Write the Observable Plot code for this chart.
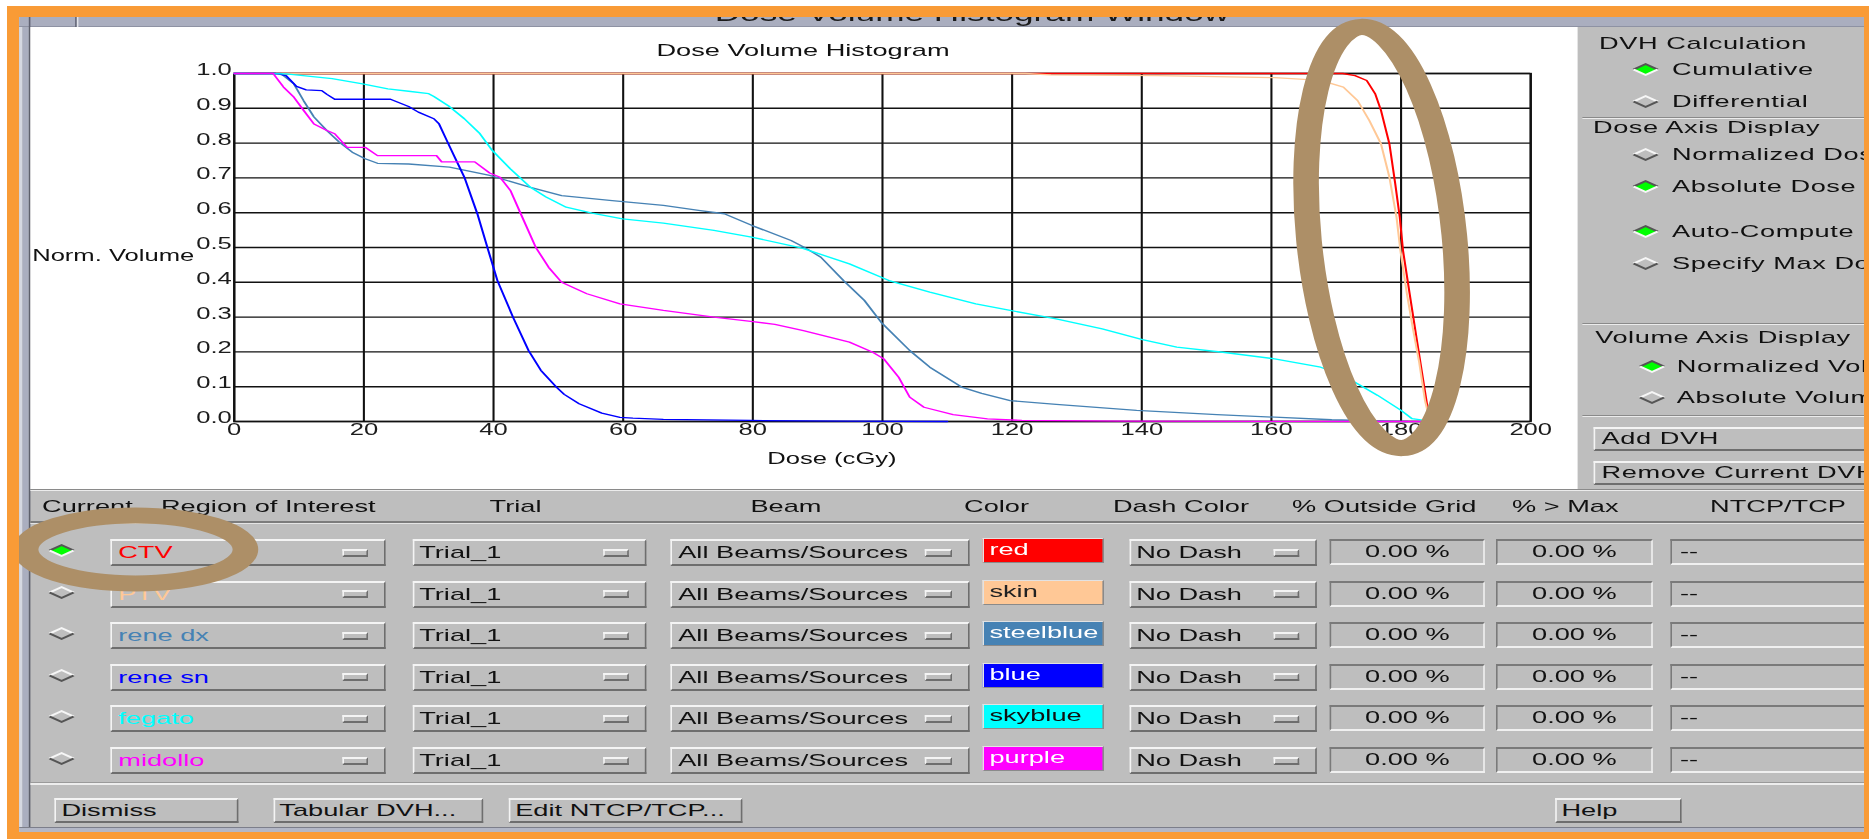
<!DOCTYPE html>
<html>
<head>
<meta charset="utf-8">
<title>Dose Volume Histogram Window</title>
<script src="https://cdn.jsdelivr.net/npm/d3@7"></script>
<script src="https://cdn.jsdelivr.net/npm/@observablehq/plot@0.6"></script>
<style>
html, body { margin:0; padding:0; background:#fff; width:1869px; height:839px; overflow:hidden; }
#app { position:absolute; left:0; top:0; width:1168.125px; height:839px; transform:scale(1.6,1); transform-origin:0 0;
  font-family:"Liberation Sans", Arial, Helvetica, sans-serif; font-size:17px; color:#111; }
#app div { position:absolute; box-sizing:border-box; white-space:nowrap; }
.orange { position:absolute; background:#f99b36; z-index:10; }
.t { height:20px; line-height:20px; }
.raised { background:#bebebe; border-style:solid; border-width:2px 1.5px; border-color:#f4f4f4 #6e6e6e #6e6e6e #f4f4f4; }
.sunken { background:#bebebe; border-style:solid; border-width:2px 1.5px; border-color:#7a7a7a #f0f0f0 #f0f0f0 #7a7a7a; }
.rp { letter-spacing:0.35px; }
</style>
</head>
<body>
<div id="app"></div>
<div class="orange" style="left:7px;top:6px;width:1862px;height:11px"></div>
<div class="orange" style="left:7px;top:6px;width:12px;height:833px"></div>
<div class="orange" style="left:1864px;top:6px;width:5px;height:833px"></div>
<div class="orange" style="left:7px;top:832px;width:1862px;height:7px"></div>
<script>
// ---------------- DATA ----------------
const windowTitle = "Dose Volume Histogram Window";
const chartTitle = "Dose Volume Histogram";
const xLabel = "Dose (cGy)";
const yLabel = "Norm. Volume";
const xTicks = [0, 20, 40, 60, 80, 100, 120, 140, 160, 180, 200];
const yTicks = [0, 0.1, 0.2, 0.3, 0.4, 0.5, 0.6, 0.7, 0.8, 0.9, 1.0];

const roiNames  = ["CTV", "PTV", "rene dx", "rene sn", "fegato", "midollo"];
const roiColors = ["#ff0000", "#ffc896", "#4682b4", "#0000ff", "#00ffff", "#ff00ff"];
const colorNames = ["red", "skin", "steelblue", "blue", "skyblue", "purple"];
const swatchTextColors = ["#ffffff", "#222222", "#ffffff", "#ffffff", "#111111", "#ffffff"];
const trialNames = ["Trial_1", "Trial_1", "Trial_1", "Trial_1", "Trial_1", "Trial_1"];
const beamNames = ["All Beams/Sources", "All Beams/Sources", "All Beams/Sources", "All Beams/Sources", "All Beams/Sources", "All Beams/Sources"];
const dashNames = ["No Dash", "No Dash", "No Dash", "No Dash", "No Dash", "No Dash"];
const outsideGrid = ["0.00 %", "0.00 %", "0.00 %", "0.00 %", "0.00 %", "0.00 %"];
const overMax = ["0.00 %", "0.00 %", "0.00 %", "0.00 %", "0.00 %", "0.00 %"];
const ntcpTcp = ["--", "--", "--", "--", "--", "--"];
const currentRoi = 0;
const tableHeaders = ["Current", "Region of Interest", "Trial", "Beam", "Color", "Dash Color", "% Outside Grid", "% > Max", "NTCP/TCP"];
const bottomButtons = ["Dismiss", "Tabular DVH...", "Edit NTCP/TCP...", "Help"];

const dvhCalcTitle = "DVH Calculation";
const dvhCalcOptions = ["Cumulative", "Differential"];
const doseAxisTitle = "Dose Axis Display";
const doseAxisOptions = ["Normalized Dose", "Absolute Dose"];
const maxDoseOptions = ["Auto-Compute", "Specify Max Dose"];
const volAxisTitle = "Volume Axis Display";
const volAxisOptions = ["Normalized Volume", "Absolute Volume"];
const sideButtons = ["Add DVH", "Remove Current DVH"];

// DVH curves (dose cGy, normalized volume)
const ctvDose = [0, 171, 172.9, 174.7, 176, 176.9, 178.2, 179.1, 179.8, 180.3, 181.3, 182.3, 183.4, 184.3, 185];
const ctvVol  = [1, 1, 0.994, 0.98, 0.942, 0.894, 0.798, 0.683, 0.587, 0.491, 0.37, 0.25, 0.12, 0.015, 0];

const ptvDose = [0, 122, 126, 142.6, 160.5, 167.6, 171.1, 173.3, 175.1, 176.9, 178.2, 179.3, 179.9, 180.9, 181.8, 182.8, 183.7, 184.4, 185];
const ptvVol  = [1, 1, 0.996, 0.994, 0.988, 0.98, 0.961, 0.922, 0.865, 0.798, 0.702, 0.587, 0.491, 0.367, 0.27, 0.17, 0.06, 0.005, 0];

const reneDxDose = [0, 7.2, 9.2, 10.7, 12.3, 14.3, 16.2, 18.2, 20.2, 22.1, 26.9, 33.2, 39.4, 45.7, 50.5, 58.3, 66.2, 71.9, 75.6, 79.9, 85.9, 87.9, 90.5, 94, 97.2, 99.8, 104.2, 107.3, 112.2, 115.3, 119.7, 126.8, 139.2, 151.6, 160.5, 169.3, 178.2, 181];
const reneDxVol  = [1, 1, 0.97, 0.922, 0.875, 0.836, 0.803, 0.774, 0.755, 0.742, 0.74, 0.731, 0.707, 0.673, 0.649, 0.635, 0.621, 0.606, 0.597, 0.563, 0.52, 0.501, 0.472, 0.405, 0.348, 0.285, 0.204, 0.156, 0.099, 0.081, 0.06, 0.049, 0.032, 0.02, 0.0125, 0.005, 0.001, 0];

const reneSnDose = [0, 6.4, 8, 9.6, 11.1, 13.5, 14.3, 15.5, 24.1, 26.9, 28.4, 30.8, 31.6, 32.8, 34, 35.5, 37.5, 39.2, 40.6, 43, 45.4, 47.3, 49.7, 50.9, 53.2, 56.7, 59.5, 61.5, 66.2, 79.6, 95, 110];
const reneSnVol  = [1, 1, 0.994, 0.963, 0.953, 0.951, 0.94, 0.926, 0.926, 0.905, 0.889, 0.87, 0.855, 0.807, 0.76, 0.702, 0.597, 0.491, 0.405, 0.3, 0.204, 0.147, 0.099, 0.078, 0.051, 0.024, 0.012, 0.0096, 0.006, 0.003, 0.001, 0];

const fegatoDose = [0, 8, 15.1, 19.8, 23.7, 26.9, 30, 30.8, 33.2, 35.5, 37.9, 39.8, 42.6, 45.7, 48.1, 51.2, 55.2, 59.9, 66.2, 74, 79.8, 87.6, 94.9, 101, 107.3, 114.4, 119.7, 126.8, 133.9, 140.1, 145.4, 152.5, 160.5, 167.6, 171.1, 176.4, 180, 181.7, 184.4];
const fegatoVol  = [1, 0.999, 0.985, 0.97, 0.956, 0.949, 0.942, 0.934, 0.905, 0.87, 0.827, 0.779, 0.726, 0.673, 0.645, 0.616, 0.599, 0.582, 0.57, 0.549, 0.53, 0.498, 0.453, 0.405, 0.372, 0.338, 0.319, 0.295, 0.266, 0.235, 0.214, 0.199, 0.18, 0.156, 0.132, 0.075, 0.032, 0.008, 0.001];

const midolloDose = [0, 6, 7.6, 9.2, 10.7, 12.3, 14.3, 15.5, 17.4, 20.2, 22.1, 31.2, 32, 37.1, 39.4, 41, 42.6, 44.2, 46.5, 48.5, 50.5, 54.4, 59.5, 66.2, 74, 80, 83.4, 87.8, 94.9, 98.5, 100.2, 102.5, 104.2, 106.4, 110.9, 116.2, 121.5, 137.5, 184];
const midolloVol  = [1, 1, 0.961, 0.932, 0.894, 0.855, 0.836, 0.827, 0.788, 0.788, 0.764, 0.764, 0.746, 0.746, 0.714, 0.702, 0.664, 0.597, 0.501, 0.443, 0.4, 0.367, 0.338, 0.319, 0.3, 0.287, 0.279, 0.261, 0.228, 0.199, 0.18, 0.127, 0.07, 0.041, 0.02, 0.0077, 0.003, 0.001, 0];

const seriesDose = [ctvDose, ptvDose, reneDxDose, reneSnDose, fegatoDose, midolloDose];
const seriesVol  = [ctvVol, ptvVol, reneDxVol, reneSnVol, fegatoVol, midolloVol];

// ---------------- LAYOUT (unscaled units; page is stretched 1.6x horizontally) ----------------
const app = document.getElementById("app");
function add(st, cls, text, parent) {
  const d = document.createElement("div");
  if (cls) d.className = cls;
  for (const k in st) d.style[k] = (typeof st[k] === "number" && k !== "zIndex") ? st[k] + "px" : st[k];
  if (text != null) d.textContent = text;
  (parent || app).appendChild(d);
  return d;
}
function label(x, cy, text, extra, cls) {
  return add(Object.assign({left: x, top: cy - 10}, extra || {}), "t" + (cls ? " " + cls : ""), text);
}
function diamond(cx, cy, selected) {
  const w = 17, h = 13;
  const s = document.createElementNS("http://www.w3.org/2000/svg", "svg");
  s.setAttribute("width", w); s.setAttribute("height", h);
  s.style.position = "absolute"; s.style.left = (cx - w / 2) + "px"; s.style.top = (cy - h / 2) + "px"; s.style.overflow = "visible";
  const top = selected ? "#555" : "#f6f6f6", bot = selected ? "#f6f6f6" : "#555";
  s.innerHTML =
    `<polygon points="${w/2},1 ${w-1},${h/2} ${w/2},${h-1} 1,${h/2}" fill="${selected ? '#00ff00' : '#bebebe'}"/>` +
    `<polyline points="1,${h/2} ${w/2},1 ${w-1},${h/2}" fill="none" stroke="${top}" stroke-width="1.8"/>` +
    `<polyline points="1,${h/2} ${w/2},${h-1} ${w-1},${h/2}" fill="none" stroke="${bot}" stroke-width="1.8"/>`;
  app.appendChild(s);
}
function etch(x, y, w) {
  add({left: x, top: y, width: w, height: 1, background: "#8a8a8a"});
  add({left: x, top: y + 1, width: w, height: 1.2, background: "#ececec"});
}

// window background
add({left: 11.875, top: 17, width: 1153.125, height: 815, background: "#bebebe"});
// title bar
add({left: 11.875, top: 17, width: 1153.125, height: 10, background: "#aaaebf", borderBottom: "1px solid #8e92a3"});
add({left: 18.1, top: 17, width: 1.1, height: 10, background: "#5e6070"});
add({left: 47.2, top: 17, width: 1.1, height: 10, background: "#5e6070"});
add({left: 48.3, top: 17, width: 0.8, height: 10, background: "#e2e4ea"});
const titleClip = add({left: 11.875, top: 6, width: 1153, height: 21, overflow: "hidden"});
add({left: 295.6, top: -3.1, width: 600, height: 22, lineHeight: "22px", fontSize: "22px", textAlign: "center", color: "#1a1a1a"}, null, windowTitle, titleClip);
// left frame strip
add({left: 11.875, top: 27, width: 1.9, height: 801, background: "#d5d8e1"});
add({left: 13.75, top: 27, width: 4.4, height: 801, background: "#aaaebf"});
add({left: 18.1, top: 27, width: 1.3, height: 801, background: "#5d5f6b"});
// bottom band
add({left: 11.875, top: 827, width: 1153.125, height: 1, background: "#7c7e8a"});
add({left: 11.875, top: 828, width: 1153.125, height: 4, background: "#b3b7c6"});
// chart white area
const chartHost = add({left: 19.375, top: 27, width: 966.25, height: 462, background: "#ffffff"});

// ---------------- CHART ----------------
const rows = [];
roiNames.forEach((name, i) => seriesDose[i].forEach((d, j) => rows.push({roi: name, dose: d, vol: seriesVol[i][j]})));

const chart = Plot.plot({
  width: 966, height: 462,
  marginLeft: 126.9, marginRight: 28.8, marginTop: 46, marginBottom: 68,
  style: {fontFamily: "'Liberation Sans', Arial, sans-serif", fontSize: "16px", color: "#1c1c1c", background: "transparent", overflow: "visible"},
  x: {domain: [0, 200], label: null},
  y: {domain: [0, 1], label: null},
  color: {domain: roiNames, range: roiColors},
  marks: [
    Plot.gridX(xTicks, {stroke: "#111", strokeOpacity: 1, strokeWidth: 1.3}),
    Plot.gridY(yTicks, {stroke: "#111", strokeOpacity: 1, strokeWidth: 1.4}),
    Plot.frame({stroke: "#111", strokeWidth: 1.4}),
    Plot.axisX(xTicks, {tickSize: 0, tickPadding: 2.5, tickFormat: d => String(d)}),
    Plot.axisY(yTicks, {tickSize: 0, tickPadding: 1.5, tickFormat: d3.format(".1f"), dy: -3.6}),
    Plot.line(rows, {x: "dose", y: "vol", z: "roi", stroke: "roi", strokeWidth: 1.3}),
    Plot.text([chartTitle], {text: d => d, frameAnchor: "top", lineAnchor: "middle", dy: -22.5, dx: -49.7, fontSize: 17, fill: "#111"}),
    Plot.text([xLabel], {text: d => d, frameAnchor: "bottom", lineAnchor: "middle", dy: 37, dx: -31.6, fontSize: 16, fill: "#111"}),
    Plot.text([yLabel], {text: d => d, frameAnchor: "left", textAnchor: "start", lineAnchor: "middle", dx: -126.3, dy: 8, fontSize: 16, fill: "#111"})
  ]
});
chartHost.appendChild(chart);

// ---------------- RIGHT PANEL ----------------
label(999.4, 44, dvhCalcTitle, null, "rp");
dvhCalcOptions.forEach((t, i) => { const cy = [69, 101][i]; diamond(1028.8, cy, i === 0); label(1045, cy + 0.5, t, null, "rp"); });
etch(988.75, 117, 176.25);
label(995.6, 128, doseAxisTitle, null, "rp");
doseAxisOptions.forEach((t, i) => { const cy = [154, 186][i]; diamond(1028.8, cy, i === 1); label(1045, cy + 0.5, t, null, "rp"); });
maxDoseOptions.forEach((t, i) => { const cy = [231, 263][i]; diamond(1028.8, cy, i === 0); label(1045, cy + 0.5, t, null, "rp"); });
etch(988.75, 323, 176.25);
label(997, 338, volAxisTitle, null, "rp");
volAxisOptions.forEach((t, i) => { const cy = [366, 397][i]; diamond(1032.5, cy, i === 0); label(1048, cy + 0.5, t, null, "rp"); });
etch(988.75, 415, 176.25);
sideButtons.forEach((t, i) => {
  const top = [427, 461][i];
  const b = add({left: 996, top: top, width: 190, height: 24, overflow: "hidden", lineHeight: "20px", paddingLeft: "4px"}, "raised rp", t);
});
// right edge clip for panel contents overflow
add({left: 1165, top: 17, width: 10, height: 815, background: "#f99b36", zIndex: 4});

// ---------------- TABLE ----------------
etch(19.375, 489, 1145.625);
const hdrX = [26.25, 100.6, 306, 469, 602.5, 695.6, 807.5, 945, 1068.75];
tableHeaders.forEach((h, i) => label(hdrX[i], 507, h));
add({left: 19.375, top: 520.5, width: 1145.625, height: 2, background: "#7c7c7c"});
add({left: 19.375, top: 522.5, width: 1145.625, height: 1, background: "#e4e4e4"});

function dropdown(x1, x2, top, text, color) {
  const b = add({left: x1, top: top, width: x2 - x1, height: 27, lineHeight: "23px", paddingLeft: "3.5px", color: color || "#111"}, "raised", text);
  add({left: x2 - 11 - 16.5, top: top + 9.5, width: 16.5, height: 8}, "raised");
  return b;
}
roiNames.forEach((name, i) => {
  const top = 539 + 41.6 * i;
  diamond(38.75, top + 11.5, i === currentRoi);
  dropdown(69.4, 241.25, top, name, roiColors[i]);
  dropdown(257.5, 404.4, top, trialNames[i]);
  dropdown(419.4, 605.6, top, beamNames[i]);
  add({left: 614.4, top: top - 1, width: 75.6, height: 25, background: roiColors[i], color: swatchTextColors[i],
       border: "1.5px solid #e2e2e2", borderRightColor: "#8a8a8a", borderBottomColor: "#8a8a8a", lineHeight: "21px", paddingLeft: "3px"}, null, colorNames[i]);
  dropdown(705.6, 823, top, dashNames[i]);
  add({left: 831.25, top: top, width: 96.75, height: 26, lineHeight: "22px", textAlign: "center"}, "sunken", outsideGrid[i]);
  add({left: 935, top: top, width: 98, height: 26, lineHeight: "22px", textAlign: "center"}, "sunken", overMax[i]);
  add({left: 1044, top: top, width: 140, height: 26, lineHeight: "22px", paddingLeft: "5px"}, "sunken", ntcpTcp[i]);
});

// bottom separator and buttons
add({left: 19.375, top: 782, width: 1145.625, height: 1, background: "#9a9a9a"});
add({left: 19.375, top: 783, width: 1145.625, height: 2, background: "#ededed"});
const btnX = [[34.4, 148.75], [170.6, 301.9], [318, 463.75], [971.9, 1051]];
bottomButtons.forEach((t, i) => {
  add({left: btnX[i][0], top: 798, width: btnX[i][1] - btnX[i][0], height: 25, lineHeight: "21px", paddingLeft: "3px"}, "raised", t);
});

// ---------------- ANNOTATION RINGS ----------------
const ov = document.createElementNS("http://www.w3.org/2000/svg", "svg");
ov.setAttribute("width", 1168.125); ov.setAttribute("height", 839);
ov.style.position = "absolute"; ov.style.left = "0px"; ov.style.top = "0px"; ov.style.pointerEvents = "none";
ov.innerHTML =
  `<ellipse cx="863.5" cy="237.5" rx="45.5" ry="211" transform="rotate(-3.5 863.5 237.5)" fill="none" stroke="#ad8f67" stroke-width="16"/>` +
  `<ellipse cx="84.7" cy="549.5" rx="68.7" ry="34" fill="none" stroke="#ad8f67" stroke-width="16"/>`;
app.appendChild(ov);
</script>
</body>
</html>
